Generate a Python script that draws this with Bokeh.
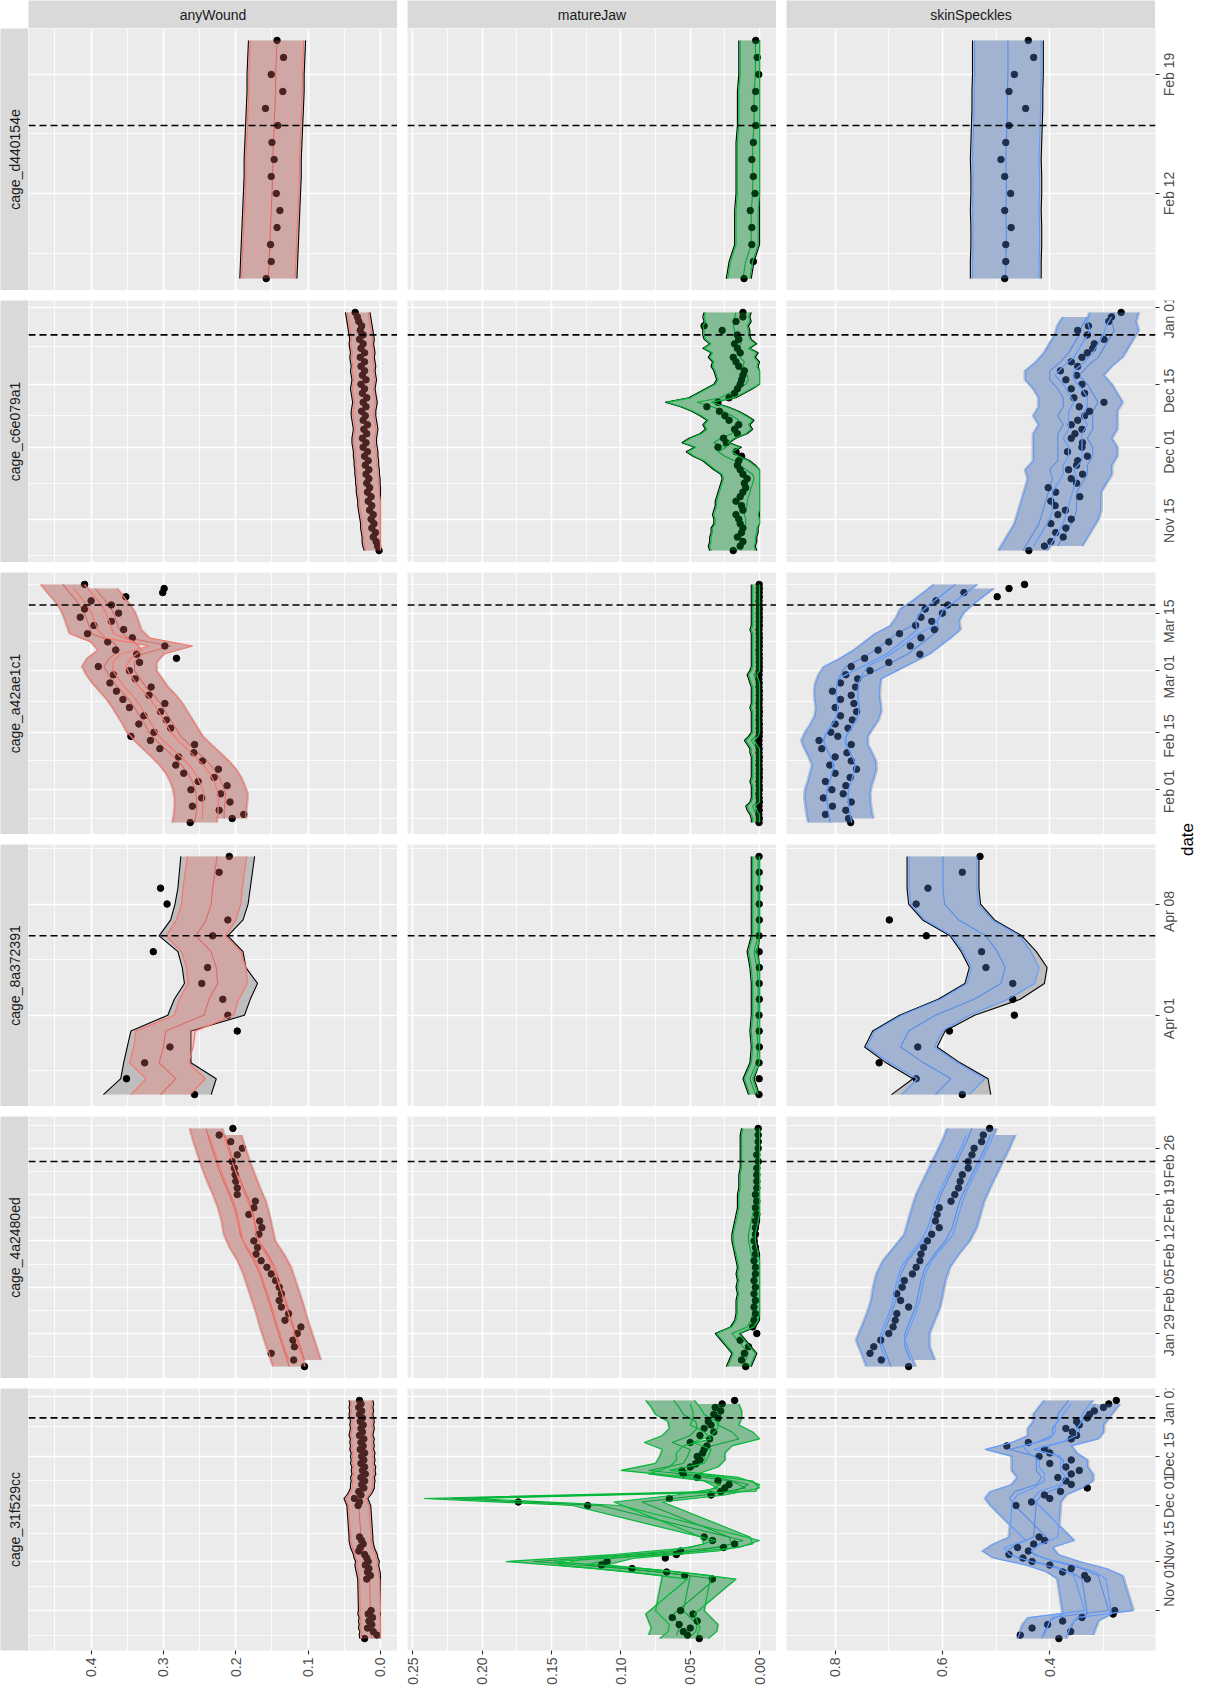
import math
import numpy as np
import pandas as pd
from bokeh.plotting import figure
from bokeh.layouts import row, column
from bokeh.models import Range1d, FixedTicker, Grid, Span, Spacer
from bokeh.core.properties import value
from bokeh.embed import file_html
from bokeh.resources import INLINE

# ======================= DATA =======================
metrics = ["anyWound", "matureJaw", "skinSpeckles"]
cages = ["cage_d440154e", "cage_c6e079a1", "cage_a42ae1c1",
         "cage_8a372391", "cage_4a2480ed", "cage_31f529cc"]

# observation dates (daily segments)
dates_d440 = [("2024-02-07", "2024-02-21")]
dates_c6e0 = [("2023-11-08", "2023-12-31")]
dates_a42a = [("2024-01-24", "2024-03-22")]
dates_8a37 = [("2024-03-27", "2024-04-11")]
dates_4a24 = [("2024-01-24", "2024-02-29")]
dates_31f5 = [("2023-10-24", "2023-11-01"), ("2023-11-10", "2023-11-22"), ("2023-12-01", "2023-12-31")]

# dashed cut-off dates
cutoff_dates = ["2024-02-16", "2023-12-26", "2024-03-17", "2024-04-06", "2024-02-24", "2023-12-26"]

# date axis ticks / labels
ticks_d440 = ["2024-02-12", "2024-02-19"]
labels_d440 = ["Feb 12", "Feb 19"]
ticks_c6e0 = ["2023-11-15", "2023-12-01", "2023-12-15", "2024-01-01"]
labels_c6e0 = ["Nov 15", "Dec 01", "Dec 15", "Jan 01"]
ticks_a42a = ["2024-02-01", "2024-02-15", "2024-03-01", "2024-03-15"]
labels_a42a = ["Feb 01", "Feb 15", "Mar 01", "Mar 15"]
ticks_8a37 = ["2024-04-01", "2024-04-08"]
labels_8a37 = ["Apr 01", "Apr 08"]
ticks_4a24 = ["2024-01-29", "2024-02-05", "2024-02-12", "2024-02-19", "2024-02-26"]
labels_4a24 = ["Jan 29", "Feb 05", "Feb 12", "Feb 19", "Feb 26"]
ticks_31f5 = ["2023-11-01", "2023-11-15", "2023-12-01", "2023-12-15", "2024-01-01"]
labels_31f5 = ["Nov 01", "Nov 15", "Dec 01", "Dec 15", "Jan 01"]

# value axis ticks / labels
aw_ticks = [0.0, 0.1, 0.2, 0.3, 0.4]
aw_labels = ["0.0", "0.1", "0.2", "0.3", "0.4"]
mj_ticks = [0.0, 0.05, 0.1, 0.15, 0.2, 0.25]
mj_labels = ["0.00", "0.05", "0.10", "0.15", "0.20", "0.25"]
ss_ticks = [0.4, 0.6, 0.8]
ss_labels = ["0.4", "0.6", "0.8"]

# ---- cage_d440154e ----
d440_aw_obs = [0.158, 0.151, 0.152, 0.143, 0.139, 0.144, 0.151, 0.147, 0.150, 0.142, 0.159, 0.135, 0.151, 0.134, 0.143]
d440_aw_fit = [0.155, 0.154, 0.153, 0.152, 0.151, 0.150, 0.149, 0.149, 0.148, 0.147, 0.146, 0.145, 0.145, 0.144, 0.143]
d440_aw_hw = (0.037, 0.037)
d440_mj_obs = [0.0112, 0.0045, 0.0056, 0.0056, 0.0067, 0.0033, 0.0045, 0.0056, 0.0045, 0.0028, 0.0039, 0.0028, 0.0006, 0.0017, 0.0028]
d440_mj_fit = [0.012, 0.010, 0.006, 0.006, 0.006, 0.005, 0.005, 0.005, 0.005, 0.004, 0.004, 0.004, 0.003, 0.003, 0.003]
d440_mj_hw = (0.005, 0.011)
d440_ss_obs = [0.484, 0.482, 0.482, 0.472, 0.484, 0.473, 0.484, 0.491, 0.482, 0.476, 0.445, 0.476, 0.466, 0.430, 0.440]
d440_ss_fit = [0.482, 0.482, 0.481, 0.481, 0.482, 0.481, 0.481, 0.482, 0.481, 0.480, 0.479, 0.479, 0.478, 0.478, 0.478]
d440_ss_hw = (0.062, 0.062)

# ---- cage_c6e079a1 ----
c6e0_aw_obs = [0.002, 0.004, 0.006, 0.010, 0.007, 0.012, 0.009, 0.013, 0.010, 0.015,
               0.012, 0.017, 0.013, 0.018, 0.015, 0.019, 0.016, 0.020, 0.016, 0.021,
               0.017, 0.022, 0.018, 0.024, 0.020, 0.025, 0.019, 0.023, 0.018, 0.024,
               0.021, 0.026, 0.020, 0.024, 0.019, 0.025, 0.022, 0.027, 0.020, 0.025,
               0.022, 0.027, 0.022, 0.028, 0.022, 0.027, 0.024, 0.029, 0.024, 0.028,
               0.026, 0.030, 0.032, 0.035]
c6e0_aw_fit = [0.005, 0.007, 0.008, 0.008, 0.009, 0.010, 0.010, 0.011, 0.012, 0.013,
               0.014, 0.014, 0.015, 0.016, 0.016, 0.017, 0.017, 0.018, 0.018, 0.019,
               0.019, 0.020, 0.020, 0.021, 0.022, 0.022, 0.021, 0.020, 0.021, 0.022,
               0.023, 0.023, 0.022, 0.021, 0.022, 0.023, 0.024, 0.023, 0.022, 0.023,
               0.024, 0.023, 0.024, 0.025, 0.024, 0.025, 0.026, 0.025, 0.026, 0.027,
               0.028, 0.029, 0.030, 0.031]
c6e0_aw_hw = (0.014, 0.015)
c6e0_mj_obs = [0.019, 0.014, 0.012, 0.016, 0.013, 0.012, 0.014, 0.015, 0.017, 0.012,
               0.013, 0.017, 0.014, 0.012, 0.010, 0.011, 0.009, 0.012, 0.014, 0.016,
               0.015, 0.013, 0.017, 0.030, 0.024, 0.026, 0.016, 0.018, 0.015, 0.022,
               0.025, 0.029, 0.038, 0.030, 0.022, 0.018, 0.016, 0.014, 0.013, 0.012,
               0.011, 0.015, 0.017, 0.019, 0.014, 0.016, 0.018, 0.015, 0.016, 0.027,
               0.040, 0.017, 0.012, 0.012]
c6e0_mj_fit = [0.013, 0.014, 0.013, 0.013, 0.012, 0.012, 0.010, 0.010, 0.011, 0.010,
               0.009, 0.009, 0.008, 0.007, 0.006, 0.005, 0.004, 0.005, 0.010, 0.014,
               0.018, 0.025, 0.030, 0.024, 0.033, 0.028, 0.020, 0.016, 0.018, 0.015,
               0.020, 0.026, 0.034, 0.045, 0.028, 0.022, 0.016, 0.010, 0.008, 0.009,
               0.010, 0.012, 0.011, 0.014, 0.012, 0.018, 0.013, 0.017, 0.018, 0.018,
               0.019, 0.017, 0.018, 0.017]
c6e0_mj_hw = (0.010, 0.022)
c6e0_ss_obs = [0.439, 0.410, 0.398, 0.375, 0.389, 0.370, 0.398, 0.360, 0.385, 0.371,
               0.390, 0.398, 0.344, 0.389, 0.403, 0.350, 0.360, 0.339, 0.365, 0.350,
               0.348, 0.330, 0.367, 0.340, 0.339, 0.360, 0.353, 0.340, 0.360, 0.348,
               0.335, 0.326, 0.345, 0.299, 0.355, 0.335, 0.360, 0.340, 0.370, 0.350,
               0.380, 0.348, 0.360, 0.340, 0.330, 0.320, 0.317, 0.299, 0.330, 0.348,
               0.328, 0.290, 0.285, 0.267]
c6e0_ss_fit = [0.450, 0.385, 0.440, 0.375, 0.430, 0.365, 0.420, 0.355, 0.415, 0.350,
               0.410, 0.350, 0.405, 0.350, 0.400, 0.340, 0.395, 0.330, 0.400, 0.330,
               0.385, 0.320, 0.385, 0.320, 0.385, 0.330, 0.385, 0.320, 0.375, 0.320,
               0.385, 0.320, 0.375, 0.310, 0.375, 0.320, 0.385, 0.330, 0.400, 0.345,
               0.400, 0.330, 0.380, 0.310, 0.365, 0.300, 0.355, 0.290, 0.345, 0.280,
               0.340, 0.285, 0.330, 0.280]
c6e0_ss_hw = (0.045, 0.045)

# ---- cage_a42ae1c1 ----
a42a_aw_obs = [0.263, 0.205, 0.189, 0.223, 0.260, 0.208, 0.247, 0.221, 0.262, 0.212,
               0.252, 0.230, 0.272, 0.224, 0.283, 0.246, 0.279, 0.258, 0.305, 0.257,
               0.318, 0.345, 0.313, 0.290, 0.334, 0.296, 0.327, 0.304, 0.347, 0.298,
               0.356, 0.320, 0.365, 0.317, 0.374, 0.339, 0.369, 0.347, 0.390, 0.333,
               0.282, 0.337, 0.366, 0.298, 0.377, 0.343, 0.405, 0.355, 0.396, 0.372,
               0.415, 0.362, 0.409, 0.372, 0.400, 0.352, 0.301, 0.299, 0.409]
a42a_aw_fit = [0.257, 0.216, 0.255, 0.216, 0.254, 0.215, 0.254, 0.214,
               0.256, 0.218, 0.260, 0.223, 0.266, 0.230, 0.275,
               0.240, 0.286, 0.252, 0.298, 0.264, 0.310, 0.276,
               0.320, 0.283, 0.326, 0.290, 0.333, 0.297,
               0.340, 0.304, 0.348, 0.313, 0.358, 0.324,
               0.368, 0.332, 0.376, 0.340, 0.382, 0.340, 0.375,
               0.330, 0.360, 0.290, 0.370, 0.350,
               0.399, 0.361, 0.403, 0.365, 0.407, 0.369, 0.412,
               0.376, 0.420, 0.385, 0.430, 0.394, 0.439]
a42a_aw_hw = (0.030, 0.030)
a42a_mj_obs = [0.0004, 0.0002, 0.0005, 0.0003, 0.0004, 0.0002, 0.0003, 0.0005, 0.0002, 0.0003,
               0.0004, 0.0002, 0.0003, 0.0002, 0.0004, 0.0003, 0.0002, 0.0004, 0.0003, 0.0005,
               0.0004, 0.0003, 0.0002, 0.0003, 0.0002, 0.0004, 0.0003, 0.0002, 0.0003, 0.0004,
               0.0002, 0.0003, 0.0002, 0.0004, 0.0003, 0.0005, 0.0004, 0.0003, 0.0002, 0.0003,
               0.0002, 0.0003, 0.0004, 0.0002, 0.0003, 0.0002, 0.0003, 0.0004, 0.0002, 0.0003,
               0.0002, 0.0003, 0.0002, 0.0003, 0.0004, 0.0002, 0.0003, 0.0002, 0.0003]
a42a_mj_fit = [0.001, 0.001, 0.002, 0.004, 0.005, 0.002, 0.001, 0.001, 0.001, 0.001,
               0.002, 0.001, 0.001, 0.001, 0.001, 0.001, 0.001, 0.002, 0.002, 0.004,
               0.006, 0.003, 0.001, 0.001, 0.001, 0.001, 0.001, 0.001, 0.002, 0.001,
               0.001, 0.001, 0.001, 0.001, 0.002, 0.003, 0.004, 0.002, 0.001, 0.001,
               0.001, 0.001, 0.001, 0.001, 0.001, 0.001, 0.001, 0.002, 0.001, 0.001,
               0.001, 0.001, 0.001, 0.001, 0.001, 0.001, 0.001, 0.001, 0.001]
a42a_mj_hw = (0.002, 0.004)
a42a_ss_obs = [0.771, 0.775, 0.818, 0.780, 0.805, 0.770, 0.822, 0.785, 0.806, 0.780,
               0.818, 0.772, 0.800, 0.760, 0.810, 0.770, 0.800, 0.778, 0.825, 0.770,
               0.830, 0.795, 0.808, 0.776, 0.800, 0.768, 0.790, 0.760, 0.800, 0.765,
               0.790, 0.770, 0.805, 0.762, 0.790, 0.758, 0.780, 0.735, 0.770, 0.700,
               0.745, 0.642, 0.720, 0.660, 0.700, 0.640, 0.680, 0.615, 0.650, 0.620,
               0.640, 0.600, 0.632, 0.590, 0.612, 0.498, 0.560, 0.476, 0.447]
a42a_ss_fit = [0.809, 0.770, 0.812, 0.773, 0.814, 0.775, 0.816, 0.776,
               0.815, 0.773, 0.810, 0.768, 0.806, 0.764, 0.802,
               0.765, 0.808, 0.772, 0.816, 0.780, 0.822, 0.780,
               0.815, 0.770, 0.805, 0.760, 0.797, 0.755, 0.795,
               0.756, 0.797, 0.758, 0.798, 0.757, 0.796, 0.755,
               0.790, 0.725, 0.780, 0.695, 0.750, 0.665, 0.725,
               0.645, 0.705, 0.625, 0.685, 0.607,
               0.656, 0.610, 0.645, 0.602, 0.638, 0.585,
               0.615, 0.565, 0.595, 0.545, 0.576]
a42a_ss_hw = (0.040, 0.040)

# ---- cage_8a372391 ----
c8a37_aw_obs = [0.257, 0.351, 0.326, 0.291, 0.198, 0.211, 0.218, 0.247, 0.239, 0.314, 0.232, 0.211, 0.295, 0.304, 0.223, 0.209]
c8a37_aw_fit = [0.304, 0.283, 0.306, 0.300, 0.297, 0.244, 0.237, 0.225, 0.227, 0.234, 0.255, 0.241, 0.234, 0.232, 0.229, 0.226]
c8a37_aw_hw = (0.041, 0.041)
c8a37_aw_grey_hi = [0.383, 0.359, 0.355, 0.350, 0.345, 0.294, 0.285, 0.271, 0.274, 0.280, 0.306, 0.290, 0.284, 0.280, 0.278, 0.276]
c8a37_aw_grey_lo = [0.234, 0.227, 0.262, 0.262, 0.262, 0.188, 0.180, 0.170, 0.186, 0.190, 0.211, 0.190, 0.183, 0.180, 0.177, 0.174]
c8a37_mj_obs = [0.0004, 0.0003, 0.0004, 0.0002, 0.0003, 0.0004, 0.0002, 0.0003, 0.0002, 0.0003, 0.0004, 0.0002, 0.0003, 0.0002, 0.0003, 0.0004]
c8a37_mj_fit = [0.003, 0.007, 0.002, 0.001, 0.002, 0.001, 0.001, 0.001, 0.002, 0.004, 0.001, 0.001, 0.001, 0.001, 0.001, 0.001]
c8a37_mj_hw = (0.002, 0.004)
c8a37_ss_obs = [0.563, 0.649, 0.718, 0.646, 0.587, 0.466, 0.469, 0.469, 0.519, 0.527, 0.630, 0.699, 0.649, 0.627, 0.563, 0.530]
c8a37_ss_fit = [0.613, 0.584, 0.635, 0.678, 0.663, 0.613, 0.541, 0.491, 0.483, 0.498, 0.519, 0.570, 0.596, 0.599, 0.599, 0.599]
c8a37_ss_hw = (0.063, 0.063)
c8a37_ss_grey_hi = [0.695, 0.655, 0.705, 0.745, 0.730, 0.680, 0.608, 0.558, 0.550, 0.565, 0.586, 0.637, 0.663, 0.666, 0.666, 0.666]
c8a37_ss_grey_lo = [0.510, 0.515, 0.567, 0.610, 0.595, 0.540, 0.455, 0.410, 0.405, 0.425, 0.452, 0.503, 0.529, 0.532, 0.532, 0.532]

# ---- cage_4a2480ed ----
c4a24_aw_obs = [0.105, 0.120, 0.151, 0.119, 0.121, 0.115, 0.110, 0.132, 0.127, 0.137,
                0.140, 0.137, 0.140, 0.145, 0.151, 0.157, 0.165, 0.172, 0.170, 0.175,
                0.168, 0.164, 0.167, 0.182, 0.175, 0.173, 0.198, 0.198, 0.200, 0.201,
                0.202, 0.205, 0.198, 0.191, 0.207, 0.223, 0.204]
c4a24_aw_fit = [0.126, 0.105, 0.132, 0.111, 0.138, 0.117, 0.144, 0.123, 0.149, 0.128,
                0.155, 0.134, 0.161, 0.140, 0.167, 0.146, 0.175, 0.156, 0.186, 0.168,
                0.194, 0.172, 0.197, 0.176, 0.202, 0.181, 0.209, 0.189, 0.217, 0.196,
                0.224, 0.203, 0.230, 0.209, 0.236, 0.215, 0.241]
c4a24_aw_hw = (0.022, 0.022)
c4a24_mj_obs = [0.010, 0.013, 0.011, 0.008, 0.014, 0.002, 0.005, 0.004, 0.003, 0.004,
                0.003, 0.004, 0.003, 0.004, 0.003, 0.003, 0.004, 0.003, 0.003, 0.004,
                0.003, 0.003, 0.003, 0.002, 0.003, 0.002, 0.003, 0.002, 0.002, 0.002,
                0.002, 0.001, 0.002, 0.001, 0.001, 0.001, 0.001]
c4a24_mj_fit = [0.012, 0.010, 0.008, 0.012, 0.016, 0.020, 0.009, 0.006, 0.005, 0.005,
                0.005, 0.004, 0.005, 0.004, 0.005, 0.004, 0.005, 0.006, 0.007, 0.008,
                0.008, 0.007, 0.006, 0.005, 0.004, 0.004, 0.004, 0.003, 0.003, 0.003,
                0.002, 0.002, 0.002, 0.002, 0.002, 0.002, 0.001]
c4a24_mj_hw = (0.005, 0.011)
c4a24_ss_obs = [0.663, 0.714, 0.735, 0.728, 0.715, 0.700, 0.692, 0.688, 0.685, 0.663,
                0.678, 0.685, 0.675, 0.671, 0.656, 0.649, 0.642, 0.640, 0.635, 0.628,
                0.620, 0.606, 0.613, 0.610, 0.606, 0.584, 0.577, 0.570, 0.567, 0.563,
                0.552, 0.552, 0.545, 0.541, 0.527, 0.524, 0.512]
c4a24_ss_fit = [0.696, 0.660, 0.705, 0.670, 0.715, 0.670, 0.705, 0.660, 0.695, 0.650,
                0.687, 0.645, 0.683, 0.640, 0.677, 0.632, 0.665, 0.615, 0.645, 0.595,
                0.625, 0.582, 0.618, 0.575, 0.611, 0.568, 0.603, 0.557, 0.591, 0.545,
                0.579, 0.533, 0.567, 0.521, 0.555, 0.510, 0.545]
c4a24_ss_hw = (0.045, 0.045)

# ---- cage_31f529cc ----
c31f5_aw_obs = [0.022, 0.005, 0.010, 0.018, 0.012, 0.016, 0.011, 0.017, 0.013,
                0.019, 0.014, 0.018, 0.016, 0.021, 0.017, 0.019, 0.022, 0.030, 0.028, 0.024, 0.026, 0.029,
                0.031, 0.029, 0.036, 0.027, 0.030, 0.023, 0.026, 0.022, 0.027, 0.021,
                0.025, 0.022, 0.027, 0.023, 0.026, 0.022, 0.028, 0.024, 0.027, 0.023,
                0.029, 0.025, 0.027, 0.024, 0.028, 0.025, 0.029, 0.026, 0.030, 0.027, 0.029]
c31f5_aw_fit = [0.012, 0.013, 0.012, 0.014, 0.013, 0.014, 0.013, 0.015, 0.014,
                0.015, 0.016, 0.017, 0.018, 0.019, 0.018, 0.020, 0.021, 0.023, 0.025, 0.026, 0.027, 0.027,
                0.030, 0.032, 0.034, 0.030, 0.027, 0.025, 0.025, 0.024, 0.025, 0.023,
                0.024, 0.023, 0.025, 0.024, 0.025, 0.024, 0.026, 0.025, 0.026, 0.025,
                0.027, 0.026, 0.025, 0.026, 0.025, 0.026, 0.027, 0.026, 0.027, 0.026, 0.027]
c31f5_aw_hw = (0.014, 0.014)
c31f5_mj_obs = [0.0435, 0.052, 0.055, 0.050, 0.058, 0.045, 0.063, 0.048, 0.057,
                0.034, 0.054, 0.067, 0.092, 0.114, 0.110, 0.068, 0.060, 0.057, 0.026, 0.018, 0.034, 0.040,
                0.124, 0.174, 0.065, 0.035, 0.028, 0.025, 0.022, 0.030, 0.045, 0.055,
                0.056, 0.050, 0.046, 0.043, 0.045, 0.041, 0.040, 0.038, 0.050, 0.036,
                0.043, 0.033, 0.040, 0.035, 0.037, 0.030, 0.033, 0.028, 0.032, 0.027, 0.018]
c31f5_mj_fit = [0.052, 0.060, 0.046, 0.058, 0.045, 0.060, 0.050, 0.062, 0.055,
                0.032, 0.050, 0.072, 0.098, 0.125, 0.163, 0.105, 0.085, 0.045, 0.030, 0.020, 0.012, 0.022,
                0.115, 0.085, 0.222, 0.040, 0.018, 0.010, 0.008, 0.020, 0.030, 0.060,
                0.080, 0.045, 0.055, 0.040, 0.052, 0.040, 0.050, 0.035, 0.063, 0.015,
                0.050, 0.020, 0.045, 0.030, 0.046, 0.028, 0.055, 0.028, 0.058, 0.030, 0.062]
c31f5_mj_hw = (0.015, 0.020)
c31f5_ss_obs = [0.383, 0.455, 0.361, 0.433, 0.404, 0.376, 0.340, 0.282, 0.279,
                0.330, 0.335, 0.376, 0.360, 0.400, 0.433, 0.450, 0.476, 0.440, 0.460, 0.430, 0.410, 0.420,
                0.463, 0.434, 0.400, 0.410, 0.380, 0.330, 0.360, 0.370, 0.385, 0.360,
                0.345, 0.370, 0.400, 0.360, 0.420, 0.400, 0.410, 0.480, 0.440, 0.360,
                0.350, 0.358, 0.370, 0.345, 0.350, 0.330, 0.326, 0.317, 0.300, 0.290, 0.276]
c31f5_ss_fit = [0.415, 0.365, 0.410, 0.360, 0.405, 0.355, 0.395, 0.330, 0.290,
                0.340, 0.310, 0.360, 0.340, 0.400, 0.390, 0.460, 0.430, 0.480, 0.440, 0.460, 0.400, 0.430,
                0.465, 0.425, 0.475, 0.415, 0.465, 0.385, 0.425, 0.365, 0.415, 0.365,
                0.425, 0.375, 0.425, 0.375, 0.425, 0.395, 0.475, 0.405, 0.425, 0.355,
                0.395, 0.345, 0.395, 0.345, 0.385, 0.335, 0.385, 0.325, 0.375, 0.315, 0.365]
c31f5_ss_hw = (0.045, 0.045)

# ======================= ASSEMBLY =======================
EPOCH = pd.Timestamp("1970-01-01")


def day_of(s):
    return int((pd.Timestamp(s) - EPOCH).days)


def seg_days(segs):
    out = []
    for a, b in segs:
        out += [float((d - EPOCH).days) for d in pd.date_range(a, b, freq="D")]
    return np.array(out)


def minor_of(t):
    t = list(t)
    mids = [(a + b) / 2.0 for a, b in zip(t[:-1], t[1:])]
    if len(t) >= 2:
        mids = [t[0] - (t[1] - t[0]) / 2.0] + mids + [t[-1] + (t[-1] - t[-2]) / 2.0]
    return mids


cage_dates = dict(zip(cages, [dates_d440, dates_c6e0, dates_a42a, dates_8a37, dates_4a24, dates_31f5]))
cage_ticks = dict(zip(cages, [(ticks_d440, labels_d440), (ticks_c6e0, labels_c6e0), (ticks_a42a, labels_a42a),
                              (ticks_8a37, labels_8a37), (ticks_4a24, labels_4a24), (ticks_31f5, labels_31f5)]))
cage_cut = dict(zip(cages, cutoff_dates))
val_ticks = {"anyWound": (aw_ticks, aw_labels), "matureJaw": (mj_ticks, mj_labels),
             "skinSpeckles": (ss_ticks, ss_labels)}

# (obs, fit, half-widths (lo, hi), grey band override, number of interleaved sub-groups)
panel_data = {
    ("cage_d440154e", "anyWound"): (d440_aw_obs, d440_aw_fit, d440_aw_hw, None, 1),
    ("cage_d440154e", "matureJaw"): (d440_mj_obs, d440_mj_fit, d440_mj_hw, None, 1),
    ("cage_d440154e", "skinSpeckles"): (d440_ss_obs, d440_ss_fit, d440_ss_hw, None, 1),
    ("cage_c6e079a1", "anyWound"): (c6e0_aw_obs, c6e0_aw_fit, c6e0_aw_hw, None, 1),
    ("cage_c6e079a1", "matureJaw"): (c6e0_mj_obs, c6e0_mj_fit, c6e0_mj_hw, None, 1),
    ("cage_c6e079a1", "skinSpeckles"): (c6e0_ss_obs, c6e0_ss_fit, c6e0_ss_hw, None, 2),
    ("cage_a42ae1c1", "anyWound"): (a42a_aw_obs, a42a_aw_fit, a42a_aw_hw, None, 2),
    ("cage_a42ae1c1", "matureJaw"): (a42a_mj_obs, a42a_mj_fit, a42a_mj_hw, None, 1),
    ("cage_a42ae1c1", "skinSpeckles"): (a42a_ss_obs, a42a_ss_fit, a42a_ss_hw, None, 2),
    ("cage_8a372391", "anyWound"): (c8a37_aw_obs, c8a37_aw_fit, c8a37_aw_hw, (c8a37_aw_grey_lo, c8a37_aw_grey_hi), 1),
    ("cage_8a372391", "matureJaw"): (c8a37_mj_obs, c8a37_mj_fit, c8a37_mj_hw, None, 1),
    ("cage_8a372391", "skinSpeckles"): (c8a37_ss_obs, c8a37_ss_fit, c8a37_ss_hw, (c8a37_ss_grey_lo, c8a37_ss_grey_hi), 1),
    ("cage_4a2480ed", "anyWound"): (c4a24_aw_obs, c4a24_aw_fit, c4a24_aw_hw, None, 2),
    ("cage_4a2480ed", "matureJaw"): (c4a24_mj_obs, c4a24_mj_fit, c4a24_mj_hw, None, 1),
    ("cage_4a2480ed", "skinSpeckles"): (c4a24_ss_obs, c4a24_ss_fit, c4a24_ss_hw, None, 2),
    ("cage_31f529cc", "anyWound"): (c31f5_aw_obs, c31f5_aw_fit, c31f5_aw_hw, None, 1),
    ("cage_31f529cc", "matureJaw"): (c31f5_mj_obs, c31f5_mj_fit, c31f5_mj_hw, None, 2),
    ("cage_31f529cc", "skinSpeckles"): (c31f5_ss_obs, c31f5_ss_fit, c31f5_ss_hw, None, 2),
}

# ======================= STYLE / LAYOUT =======================
FONT = "Liberation Sans"
W, H, STRIP, GAP, RB, BB, LABW, DATEW = 369, 262, 28, 10, 5, 38, 18, 18
vranges = {"anyWound": (0.4865, -0.0235), "matureJaw": (0.2539, -0.0122), "skinSpeckles": (0.8906, 0.203)}
band_col = {"anyWound": "#F8766D", "matureJaw": "#00BA38", "skinSpeckles": "#619CFF"}
mid_col = {"anyWound": "#D2645C", "matureJaw": "#0E9B38", "skinSpeckles": "#5387DE"}
grey_pad = {"anyWound": 0.0025, "matureJaw": 0.001, "skinSpeckles": 0.004}


def style_ticks(ax, ticks):
    ax.ticker = FixedTicker(ticks=list(ticks))
    ax.axis_line_color = None
    ax.major_tick_line_color = "#333333"
    ax.major_tick_line_width = 1.1
    ax.major_tick_out = 4
    ax.major_tick_in = 0
    ax.minor_tick_out = 0
    ax.minor_tick_in = 0


def style_axis(ax, ticks, labels):
    style_ticks(ax, ticks)
    ax.major_label_overrides = {t: l for t, l in zip(ticks, labels)}
    ax.major_label_orientation = math.pi / 2
    ax.major_label_text_font = FONT
    ax.major_label_text_font_size = "14px"
    ax.major_label_text_color = "#4D4D4D"
    ax.major_label_standoff = 3


def blank_fig(w, h, fill, top=0, bottom=0, xr=(0, 1), yr=(0, 1)):
    f = figure(width=w, height=h, x_range=Range1d(*xr), y_range=Range1d(*yr),
               x_axis_location=None, y_axis_location=None, toolbar_location=None,
               output_backend="svg", min_border=0, min_border_top=top, min_border_bottom=bottom,
               background_fill_color=fill, border_fill_color="white", outline_line_color=None)
    for g in f.grid:
        g.visible = False
    return f


def band_polygon(los, his, ys):
    xs, yv = [], []
    for lo, hi, y in zip(los, his, ys):
        if xs:
            xs.append(np.nan)
            yv.append(np.nan)
        xs += list(hi) + list(lo[::-1])
        yv += list(y) + list(y[::-1])
    return xs, yv


# top strips
top_strips = []
for m in metrics:
    s = blank_fig(W, STRIP, "#D9D9D9")
    s.text(x=[0.5], y=[0.5], text=[m], text_align="center", text_baseline="middle",
           text_font=value(FONT), text_font_size="14px", text_color="#1A1A1A")
    top_strips.append(s)
top_row = row(Spacer(width=STRIP, height=STRIP), row(*top_strips, spacing=GAP), spacing=0)

rows = []
for r, cage in enumerate(cages):
    last = (r == len(cages) - 1)
    top_b = GAP if r > 0 else 0
    bot_b = BB if last else 0
    y = seg_days(cage_dates[cage])
    ylo, yhi = y.min(), y.max()
    ypad = 0.05 * (yhi - ylo)
    y0, y1 = ylo - ypad, yhi + ypad
    dticks = [day_of(t) for t in cage_ticks[cage][0]]
    dlabels = cage_ticks[cage][1]

    strip = blank_fig(STRIP, H + top_b + bot_b, "#D9D9D9", top=top_b, bottom=bot_b)
    strip.text(x=[0.5], y=[0.5], text=[cage], angle=math.pi / 2, text_align="center",
               text_baseline="middle", text_font=value(FONT), text_font_size="14px",
               text_color="#1A1A1A")

    panels = []
    for c, m in enumerate(metrics):
        right = (c == len(metrics) - 1)
        left_b = GAP if c > 0 else 0
        right_b = RB if right else 0
        p = figure(width=W + left_b + right_b, height=H + top_b + bot_b,
                   x_range=Range1d(*vranges[m]), y_range=Range1d(y0, y1),
                   x_axis_location="below" if last else None,
                   y_axis_location="right" if right else None,
                   toolbar_location=None, output_backend="svg",
                   min_border=0, min_border_left=left_b, min_border_right=right_b,
                   min_border_top=top_b, min_border_bottom=bot_b,
                   background_fill_color="#EBEBEB", border_fill_color="white",
                   outline_line_color=None)
        for g in p.grid:
            g.visible = False
        vt, vl = val_ticks[m]
        p.add_layout(Grid(dimension=0, ticker=FixedTicker(ticks=vt, minor_ticks=minor_of(vt)),
                          grid_line_color="white", grid_line_width=1.6,
                          minor_grid_line_color="white", minor_grid_line_width=0.8))
        p.add_layout(Grid(dimension=1, ticker=FixedTicker(ticks=dticks, minor_ticks=minor_of(dticks)),
                          grid_line_color="white", grid_line_width=1.6,
                          minor_grid_line_color="white", minor_grid_line_width=0.8))
        if last:
            style_axis(p.xaxis[0], vt, vl)
        if right:
            ax = p.yaxis[0]
            style_ticks(ax, dticks)
            ax.major_label_overrides = {t: "" for t in dticks}
            ax.major_label_text_font_size = "1px"
            ax.major_label_standoff = 0

        obs, fit, hw, grey, ngroups = panel_data[(cage, m)]
        n = min(len(y), len(obs), len(fit))
        yy = y[:n]
        fit_a = np.array(fit[:n], dtype=float)
        obs_a = np.array(obs[:n], dtype=float)
        lo = np.clip(fit_a - hw[0], 0, None)
        hi = fit_a + hw[1]
        if grey is None:
            glo = np.clip(lo - grey_pad[m], 0, None)
            ghi = hi + grey_pad[m]
        else:
            glo = np.array(grey[0][:n], dtype=float)
            ghi = np.array(grey[1][:n], dtype=float)

        idx = np.arange(n)
        groups = [idx[idx % ngroups == k] for k in range(ngroups)]
        col = band_col[m]

        gx, gy = band_polygon([glo[g] for g in groups], [ghi[g] for g in groups], [yy[g] for g in groups])
        p.patch(gx, gy, fill_color="#BEBEBE", fill_alpha=1.0, line_color=None)
        if ngroups == 1:
            p.line(glo, yy, line_color="black", line_width=1.1)
            p.line(ghi, yy, line_color="black", line_width=1.1)
        for g in groups:
            p.line(fit_a[g], yy[g], line_color=mid_col[m], line_width=1.1)
        p.scatter(obs_a, yy, size=6.5, fill_color="black", line_color="black")
        bx, by = band_polygon([lo[g] for g in groups], [hi[g] for g in groups], [yy[g] for g in groups])
        p.patch(bx, by, fill_color=col, fill_alpha=0.3, line_color=None)
        for g in groups:
            p.line(lo[g], yy[g], line_color=col, line_width=1.2)
            p.line(hi[g], yy[g], line_color=col, line_width=1.2)

        p.add_layout(Span(location=day_of(cage_cut[cage]), dimension="width",
                          line_color="black", line_dash="7 4", line_width=1.6))
        panels.append(p)

    # date tick labels, centred on their ticks (frame extended over the borders)
    per_px = (y1 - y0) / H
    lab = blank_fig(LABW, H + top_b + bot_b, "white",
                    yr=(y0 - bot_b * per_px, y1 + top_b * per_px))
    lab.text(x=[0.45] * len(dticks), y=dticks, text=dlabels, angle=math.pi / 2,
             text_align="center", text_baseline="middle", text_font=value(FONT),
             text_font_size="14px", text_color="#4D4D4D")

    rows.append(row(strip, row(*panels, spacing=0), lab, spacing=0))

body = column(*rows, spacing=0)
main = column(top_row, body, spacing=0)

TOTAL_H = STRIP + len(cages) * H + (len(cages) - 1) * GAP + BB
datefig = blank_fig(DATEW, TOTAL_H, "white", yr=(0, TOTAL_H))
datefig.text(x=[0.5], y=[TOTAL_H - (STRIP + (len(cages) * H + (len(cages) - 1) * GAP) / 2.0)],
             text=["date"], angle=math.pi / 2, text_align="center", text_baseline="middle",
             text_font=value(FONT), text_font_size="17px", text_color="black")

layout = row(main, datefig, spacing=0)

open("out.html", "w").write(file_html(layout, INLINE))
